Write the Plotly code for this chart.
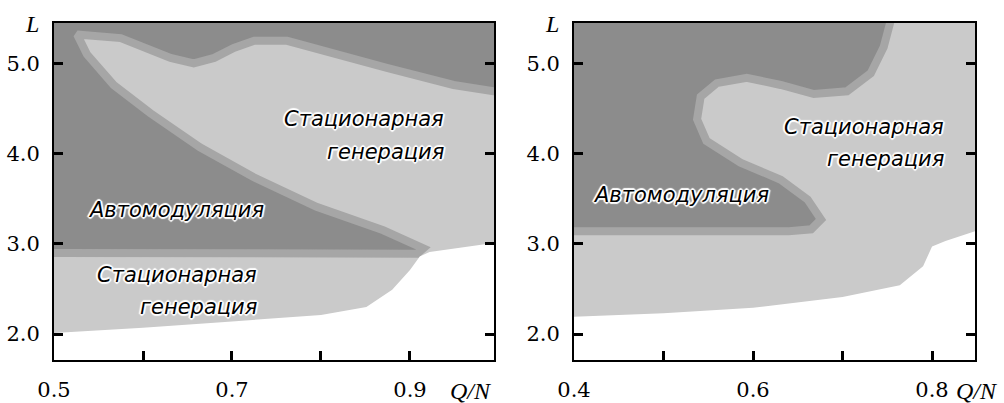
import plotly.graph_objects as go

# ---------------- data ----------------
# Left panel: x = Q/N, y = L
left_white_x = [0.5, 0.6, 0.7, 0.8, 0.851, 0.88, 0.90, 0.911, 0.922, 0.96, 0.994]
left_white_y = [2.01, 2.07, 2.14, 2.21, 2.30, 2.49, 2.71, 2.86, 2.91, 2.96, 3.01]

left_dark_x = [0.45, 0.45, 1.05, 1.05, 0.994, 0.949, 0.874, 0.80, 0.762, 0.725, 0.702,
               0.680, 0.657, 0.631, 0.604, 0.575, 0.526, 0.537, 0.567, 0.608, 0.664,
               0.724, 0.795, 0.870, 0.915, 0.908, 0.45]
left_dark_y = [2.90, 5.70, 5.70, 4.66, 4.69, 4.76, 4.95, 5.14, 5.25, 5.25, 5.17,
               5.06, 5.00, 5.06, 5.17, 5.28, 5.32, 5.10, 4.76, 4.45, 4.07,
               3.74, 3.41, 3.15, 2.95, 2.89, 2.90]

# Right panel
right_white_x = [0.4, 0.5, 0.6, 0.7, 0.764, 0.790, 0.800, 0.815, 0.848]
right_white_y = [2.19, 2.23, 2.29, 2.41, 2.54, 2.75, 2.97, 3.03, 3.14]

right_dark_x = [0.35, 0.35, 0.754, 0.754, 0.746, 0.7315, 0.705, 0.668, 0.631, 0.593,
                0.5595, 0.5415, 0.5375, 0.548, 0.586, 0.631, 0.661, 0.676, 0.665,
                0.64, 0.35]
right_dark_y = [3.14, 5.70, 5.70, 5.48, 5.18, 4.89, 4.69, 4.66, 4.76, 4.84,
                4.78, 4.63, 4.38, 4.14, 3.90, 3.71, 3.49, 3.27, 3.16,
                3.14, 3.14]

left_xticks = [0.5, 0.6, 0.7, 0.8, 0.9]
left_xlabels = ["0.5", "", "0.7", "", "0.9"]
right_xticks = [0.4, 0.5, 0.6, 0.7, 0.8]
right_xlabels = ["0.4", "", "0.6", "", "0.8"]
yticks = [2.0, 3.0, 4.0, 5.0]
ylabels = ["2.0", "3.0", "4.0", "5.0"]

txt_stat1 = "Стационарная"
txt_stat2 = "генерация"
txt_auto = "Автомодуляция"
x_title = "Q/N"
y_title = "L"

# ---------------- styling ----------------
DARK = "#8c8c8c"
MID = "#a6a6a6"
LIGHT = "#cacaca"
W, H = 1004, 403

fig = go.Figure()

def add_region(x, y, fill, xa, ya, edge=None, ew=0):
    fig.add_trace(go.Scatter(
        x=x, y=y, mode="lines", fill="toself", fillcolor=fill,
        line=dict(color=edge or fill, width=ew),
        xaxis=xa, yaxis=ya, hoverinfo="skip", showlegend=False))

def add_white(x, y, xa, ya, ymin):
    xs = list(x) + [x[-1] + 0.1, x[-1] + 0.1, x[0] - 0.1, x[0] - 0.1]
    ys = list(y) + [y[-1], ymin, ymin, y[0]]
    fig.add_trace(go.Scatter(
        x=xs, y=ys, mode="lines", fill="toself", fillcolor="white",
        line=dict(color="white", width=0),
        xaxis=xa, yaxis=ya, hoverinfo="skip", showlegend=False))

add_region(left_dark_x, left_dark_y, DARK, "x", "y", MID, 8)
add_white(left_white_x, left_white_y, "x", "y", 1.0)
add_region(right_dark_x, right_dark_y, DARK, "x2", "y2", MID, 8)
add_white(right_white_x, right_white_y, "x2", "y2", 1.0)

tickfont = dict(family="DejaVu Serif", size=21, color="black")
common_axis = dict(showline=True, linecolor="black", linewidth=2, ticks="inside",
                   ticklen=9, tickwidth=2.5, tickcolor="black", showgrid=False,
                   zeroline=False, tickfont=tickfont, fixedrange=True, automargin=False)

L0, L1 = 54 / W, 494 / W
R0, R1 = 574 / W, 975 / W
YD = [(H - 360) / H, (H - 23) / H]

fig.update_layout(
    width=W, height=H, margin=dict(l=0, r=0, t=0, b=0, autoexpand=False),
    paper_bgcolor="white", plot_bgcolor=LIGHT,
    xaxis=dict(domain=[L0, L1], range=[0.5, 0.9944], tickvals=left_xticks,
               ticktext=left_xlabels, mirror=True, ticklabelstandoff=10, **common_axis),
    yaxis=dict(domain=YD, range=[1.712, 5.447], tickvals=yticks, ticktext=ylabels,
               mirror="ticks", ticklabelstandoff=8, anchor="x", **common_axis),
    xaxis2=dict(domain=[R0, R1], range=[0.4, 0.848], tickvals=right_xticks,
                ticktext=right_xlabels, mirror=True, ticklabelstandoff=10,
                anchor="y2", **common_axis),
    yaxis2=dict(domain=YD, range=[1.712, 5.447], tickvals=yticks, ticktext=ylabels,
                mirror="ticks", ticklabelstandoff=8, anchor="x2", **common_axis),
)

halo = ("1px 1px 1px white, -1px -1px 1px white, 1px -1px 1px white, "
        "-1px 1px 1px white, 0 2px 1px white, 0 -2px 1px white, 2px 0 1px white, -2px 0 1px white")
lab_font = dict(family="DejaVu Sans", size=21, color="black", style="italic", shadow=halo)

def ann(text, px, py, xanchor="right", font=lab_font):
    fig.add_annotation(text=text, x=px / W, y=1 - py / H, xref="paper", yref="paper",
                       xanchor=xanchor, yanchor="middle", showarrow=False, font=font)

# left panel labels
ann(txt_stat1, 446, 119)
ann(txt_stat2, 446, 152)
ann(txt_auto, 266, 210)
ann(txt_stat1, 259, 275)
ann(txt_stat2, 259, 307)
# right panel labels
ann(txt_stat1, 946, 127)
ann(txt_stat2, 946, 159)
ann(txt_auto, 771, 195)

axis_title_font = dict(family="Liberation Serif", size=24, color="black", style="italic")
ann(y_title, 32, 24, "center", axis_title_font)
ann(y_title, 552, 24, "center", axis_title_font)
ann(x_title, 471, 391, "center", axis_title_font)
ann(x_title, 977, 391, "center", axis_title_font)

fig.write_html("out.html", config={"displayModeBar": False},
               post_script="document.body.style.margin='0';")
